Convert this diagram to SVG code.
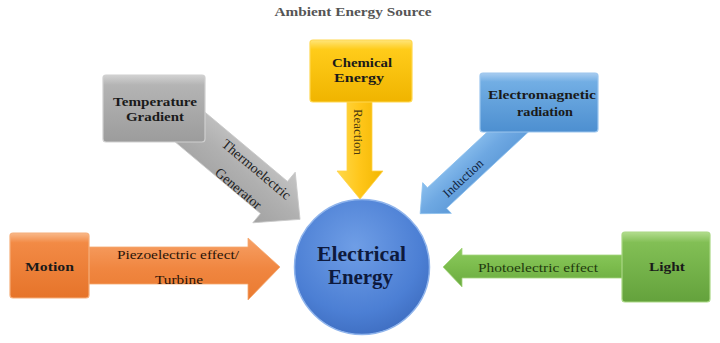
<svg xmlns="http://www.w3.org/2000/svg" width="720" height="343" viewBox="0 0 720 343">
<style>
.lbl{font-family:"Liberation Serif","Times New Roman",serif;font-weight:bold;font-size:13px;fill:#1a1a1a;text-anchor:middle}
.alb{font-family:"Liberation Serif","Times New Roman",serif;font-size:13px;text-anchor:middle}
.big{font-size:20px;fill:#0e1a3d}
.thermo{font-size:14px;fill:#222}
.title{font-family:"Liberation Serif","Times New Roman",serif;font-weight:bold;font-size:12px;fill:#555;text-anchor:middle}
.box{stroke-width:1.2}
</style>
<defs>
<linearGradient id="gGray" x1="0" y1="0" x2="0" y2="1"><stop offset="0" stop-color="#d2d2d2"/><stop offset="0.15" stop-color="#b4b4b4"/><stop offset="1" stop-color="#9c9c9c"/></linearGradient>
<linearGradient id="gYel" x1="0" y1="0" x2="0" y2="1"><stop offset="0" stop-color="#ffe57a"/><stop offset="0.15" stop-color="#ffcc1a"/><stop offset="1" stop-color="#f0b400"/></linearGradient>
<linearGradient id="gBlue" x1="0" y1="0" x2="0" y2="1"><stop offset="0" stop-color="#a9cdf0"/><stop offset="0.15" stop-color="#72aee4"/><stop offset="1" stop-color="#4d8fd0"/></linearGradient>
<linearGradient id="gOr" x1="0" y1="0" x2="0" y2="1"><stop offset="0" stop-color="#f9b98a"/><stop offset="0.15" stop-color="#f28a45"/><stop offset="1" stop-color="#e6742a"/></linearGradient>
<linearGradient id="gGr" x1="0" y1="0" x2="0" y2="1"><stop offset="0" stop-color="#b3dd8e"/><stop offset="0.15" stop-color="#82bf55"/><stop offset="1" stop-color="#64a23c"/></linearGradient>
<linearGradient id="aGray" x1="0" y1="0" x2="0" y2="1"><stop offset="0" stop-color="#c6c6c6"/><stop offset="0.5" stop-color="#b0b0b0"/><stop offset="1" stop-color="#a2a2a2"/></linearGradient>
<linearGradient id="aYel" x1="0" y1="0" x2="1" y2="0"><stop offset="0" stop-color="#ffd94a"/><stop offset="0.5" stop-color="#ffc61a"/><stop offset="1" stop-color="#f2b600"/></linearGradient>
<linearGradient id="aBlue" x1="0" y1="0" x2="0" y2="1"><stop offset="0" stop-color="#5d9ad8"/><stop offset="0.5" stop-color="#6ea8e2"/><stop offset="1" stop-color="#8cc0ee"/></linearGradient>
<linearGradient id="aOr" x1="0" y1="0" x2="0" y2="1"><stop offset="0" stop-color="#f7a065"/><stop offset="0.5" stop-color="#f08640"/><stop offset="1" stop-color="#ea7a30"/></linearGradient>
<linearGradient id="aGr" x1="0" y1="0" x2="0" y2="1"><stop offset="0" stop-color="#8ccb5e"/><stop offset="0.5" stop-color="#7bbb4c"/><stop offset="1" stop-color="#6aaa40"/></linearGradient>
<radialGradient id="gCirc" cx="0.45" cy="0.35" r="0.7"><stop offset="0" stop-color="#6f9ee6"/><stop offset="0.7" stop-color="#4c7fd4"/><stop offset="1" stop-color="#3d6cbf"/></radialGradient>
</defs>

<text class="title" x="353" y="16" textLength="157" lengthAdjust="spacingAndGlyphs">Ambient Energy Source</text>

<g id="connectors">
  <g id="arrow-thermo">
    <g transform="translate(274,197.5) rotate(40)">
      <path d="M-140,-21 L0,-21 L0,-33 L34,0 L0,33 L0,21 L-140,21 Z" fill="url(#aGray)" stroke="#c8c8c8" stroke-width="0.8"/>
    </g>
    <text class="alb thermo" transform="translate(256,170) rotate(40)" y="4">Thermoelectric</text>
    <text class="alb thermo" transform="translate(238,189) rotate(40)" y="4">Generator</text>
  </g>
  <g id="arrow-reaction">
    <path d="M347,98 L372,98 L372,171 L383,171 L360,199 L337,171 L347,171 Z" fill="url(#aYel)" stroke="#ffd24a" stroke-width="0.8"/>
    <text class="alb" fill="#4a3a10" transform="translate(358,132) rotate(90)" y="4.5">Reaction</text>
  </g>
  <g id="arrow-induction">
    <g transform="translate(437,198) rotate(137)">
      <path d="M-120,-14 L0,-14 L0,-21 L23,0 L0,21 L0,14 L-120,14 Z" fill="url(#aBlue)" stroke="#8cc0ee" stroke-width="0.8"/>
    </g>
    <text class="alb" fill="#10243f" transform="translate(463,178) rotate(-43)" y="4.5">Induction</text>
  </g>
  <g id="arrow-piezo">
    <path d="M85,247 L248,247 L248,238 L280,267 L248,300 L248,284 L85,284 Z" fill="url(#aOr)" stroke="#f5a870" stroke-width="0.8"/>
    <text class="alb" fill="#2a1408" x="178" y="259" textLength="122" lengthAdjust="spacingAndGlyphs">Piezoelectric effect/</text>
    <text class="alb" fill="#2a1408" x="179" y="284" textLength="48" lengthAdjust="spacingAndGlyphs">Turbine</text>
  </g>
  <g id="arrow-photo">
    <path d="M625,255 L462,255 L462,248 L443,267 L462,287 L462,278 L625,278 Z" fill="url(#aGr)" stroke="#a5d67e" stroke-width="0.8"/>
    <text class="alb" fill="#1f3a0e" x="538" y="272" textLength="120" lengthAdjust="spacingAndGlyphs">Photoelectric effect</text>
  </g>
</g>

<g id="temperature-gradient">
  <rect class="box" x="103" y="75" width="102" height="67" rx="3" fill="url(#gGray)" stroke="#cfcfcf"/>
  <text class="lbl" x="155" y="106" textLength="84" lengthAdjust="spacingAndGlyphs">Temperature</text>
  <text class="lbl" x="155" y="121" textLength="58" lengthAdjust="spacingAndGlyphs">Gradient</text>
</g>
<g id="chemical-energy">
  <rect class="box" x="310" y="40" width="102" height="62" rx="3" fill="url(#gYel)" stroke="#ffd850"/>
  <text class="lbl" x="362" y="67" textLength="60" lengthAdjust="spacingAndGlyphs">Chemical</text>
  <text class="lbl" x="359" y="82" textLength="50" lengthAdjust="spacingAndGlyphs">Energy</text>
</g>
<g id="electromagnetic-radiation">
  <rect class="box" x="480" y="73" width="118" height="59" rx="3" fill="url(#gBlue)" stroke="#9cc6ee"/>
  <text class="lbl" x="542" y="99" textLength="108" lengthAdjust="spacingAndGlyphs">Electromagnetic</text>
  <text class="lbl" x="545" y="116" textLength="56" lengthAdjust="spacingAndGlyphs">radiation</text>
</g>
<g id="motion">
  <rect class="box" x="10" y="233" width="79" height="65" rx="3" fill="url(#gOr)" stroke="#f6ae7a"/>
  <text class="lbl" x="49.5" y="271" textLength="49" lengthAdjust="spacingAndGlyphs">Motion</text>
</g>
<g id="light">
  <rect class="box" x="622" y="232" width="88" height="70" rx="3" fill="url(#gGr)" stroke="#a9d884"/>
  <text class="lbl" x="667" y="271" textLength="36" lengthAdjust="spacingAndGlyphs">Light</text>
</g>
<g id="electrical-energy">
  <circle cx="362" cy="267" r="67.5" fill="url(#gCirc)" stroke="#8fb4ec" stroke-width="1.5"/>
  <text class="lbl big" x="361.5" y="261" textLength="89" lengthAdjust="spacingAndGlyphs">Electrical</text>
  <text class="lbl big" x="360.5" y="284" textLength="65" lengthAdjust="spacingAndGlyphs">Energy</text>
</g>
</svg>
